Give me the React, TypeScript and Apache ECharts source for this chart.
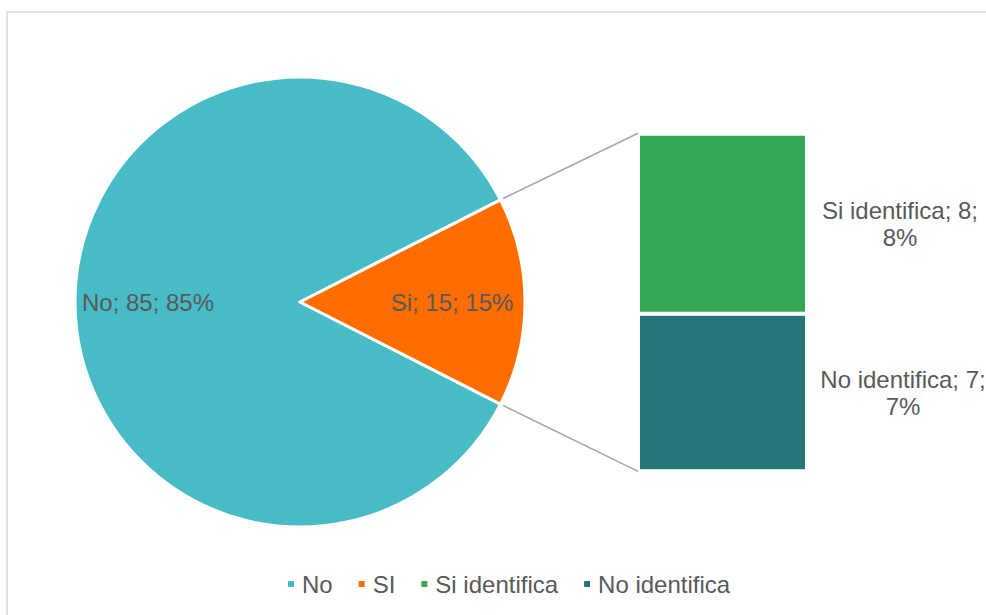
import React, { useEffect, useRef } from "react";
import * as echarts from "echarts";

const pieNames = ["No", "SI"];
const pieLabelNames = ["No", "Si"];
const pieValues = [85, 15];
const pieColors = ["#47BCC6", "#FF6D00"];

const barNames = ["Si identifica", "No identifica"];
const barValues = [8, 7];
const barColors = ["#35A853", "#267579"];

const legendOrder = ["No", "SI", "Si identifica", "No identifica"];

const FONT = "'Liberation Sans', Arial, sans-serif";
const TEXT = "#595959";

export default function App() {
  const ref = useRef<HTMLDivElement>(null);

  useEffect(() => {
    if (!ref.current) return;
    const chart = echarts.init(ref.current, null, { renderer: "svg" });

    const total = pieValues.reduce((a, b) => a + b, 0);
    const barTotal = barValues.reduce((a, b) => a + b, 0);
    const cx = 300;
    const cy = 302;
    const r = 225;
    const half = (180 * pieValues[1]) / total;
    const startAngle = half + (360 * pieValues[0]) / total;
    const rad = (half * Math.PI) / 180;
    const lr = 228;
    const lx = cx + lr * Math.cos(rad);
    const ly1 = cy - lr * Math.sin(rad);
    const ly2 = cy + lr * Math.sin(rad);

    const gridL = 638;
    const gridT = 133.7;
    const gridW = 169;
    const gridH = 337.6;
    const labelAnchors = [262, 265];

    const option: any = {
      animation: false,
      textStyle: { fontFamily: FONT },
      graphic: [
        {
          type: "rect",
          shape: { x: 7, y: 12, width: 1100, height: 800 },
          style: { fill: "none", stroke: "#D9D9D9", lineWidth: 1.5 },
          silent: true,
          z: -10,
        },
        {
          type: "line",
          shape: { x1: lx, y1: ly1, x2: gridL, y2: gridT - 0.5 },
          style: { stroke: "#A6A6A6", lineWidth: 1.5 },
          silent: true,
        },
        {
          type: "line",
          shape: { x1: lx, y1: ly2, x2: gridL, y2: gridT + gridH },
          style: { stroke: "#A6A6A6", lineWidth: 1.5 },
          silent: true,
        },
      ],
      legend: {
        data: legendOrder,
        left: 286,
        top: 572,
        padding: 0,
        icon: "rect",
        itemWidth: 8,
        itemHeight: 8,
        itemGap: 24,
        textStyle: { fontSize: 24, color: TEXT, fontFamily: FONT, padding: [0, 0, 0, 2] },
      },
      grid: { left: gridL, top: gridT, width: gridW, height: gridH },
      xAxis: { type: "category", data: ["d"], show: false },
      yAxis: { type: "value", min: 0, max: barTotal, show: false, inverse: true },
      series: [
        {
          type: "pie",
          name: "pie",
          center: [cx, cy],
          radius: r,
          startAngle,
          clockwise: true,
          data: pieNames.map((n, i) => ({
            name: n,
            value: pieValues[i],
            itemStyle: { color: pieColors[i] },
          })),
          label: { show: false },
          labelLine: { show: false },
          itemStyle: { borderColor: "#fff", borderWidth: 3 },
          emphasis: { disabled: true },
        },
        {
          type: "pie",
          name: "pieLabels",
          center: [cx, cy],
          radius: 298,
          startAngle,
          clockwise: true,
          silent: true,
          legendHoverLink: false,
          data: pieNames.map((n, i) => ({
            name: n,
            value: pieValues[i],
            itemStyle: { color: "rgba(0,0,0,0)" },
          })),
          label: {
            show: true,
            position: "inner",
            formatter: (p: any) =>
              `${pieLabelNames[p.dataIndex]}; ${p.value}; ${p.percent}%`,
            fontSize: 24,
            color: TEXT,
            fontFamily: FONT,
          },
          labelLine: { show: false },
          emphasis: { disabled: true },
          z: 5,
        },
        ...barNames.map((n, i) => ({
          type: "bar",
          name: n,
          stack: "b",
          barWidth: "100%",
          data: [barValues[i]],
          itemStyle: { color: barColors[i], borderColor: "#fff", borderWidth: 2 },
          emphasis: { disabled: true },
          label: {
            show: true,
            position: [labelAnchors[i], "50%"],
            align: "center",
            verticalAlign: "middle",
            lineHeight: 27,
            fontSize: 24,
            color: TEXT,
            fontFamily: FONT,
            formatter: () =>
              `${n}; ${barValues[i]};\n${Math.round((barValues[i] / total) * 100)}%`,
          },
        })),
      ],
    };

    chart.setOption(option);
    return () => chart.dispose();
  }, []);

  return (
    <div
      ref={ref}
      style={{ position: "fixed", left: 0, top: 0, width: 986, height: 615, background: "#fff" }}
    />
  );
}
